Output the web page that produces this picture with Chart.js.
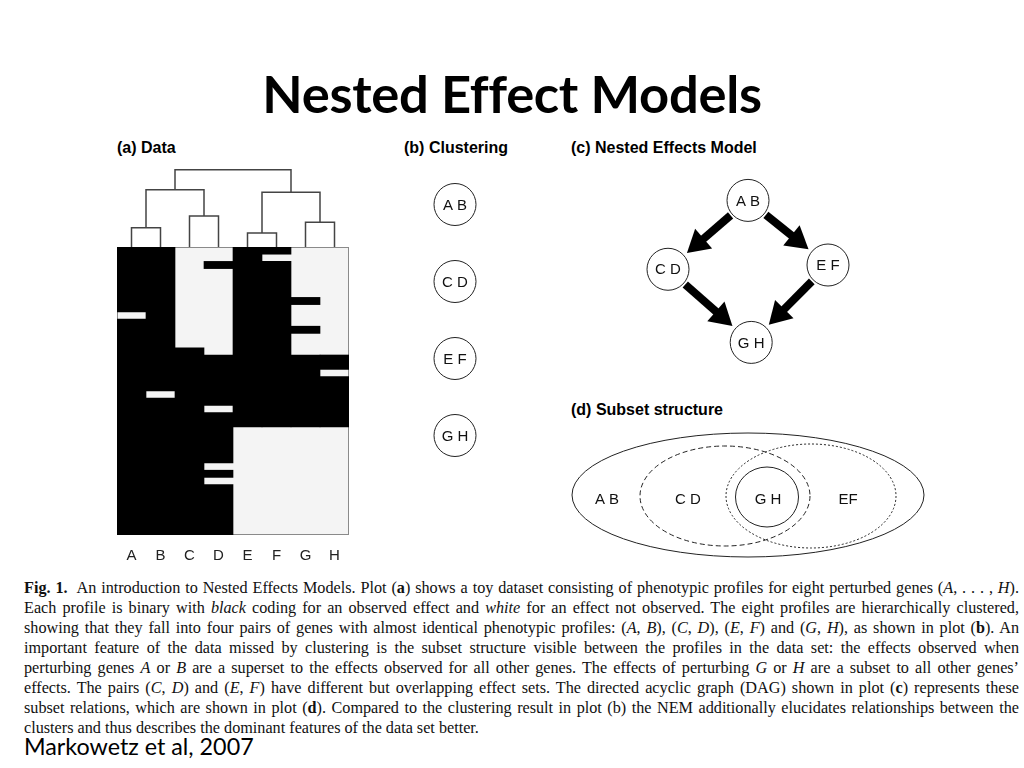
<!DOCTYPE html>
<html>
<head>
<meta charset="utf-8">
<title>Nested Effect Models</title>
<script src="https://cdn.jsdelivr.net/npm/chart.js@4.4.4/dist/chart.umd.min.js"></script>
<style>
  html, body { margin: 0; padding: 0; background: #fff; }
  #page { position: relative; width: 1024px; height: 768px; overflow: hidden; color: #000; }
  canvas { position: absolute; display: block; }
  h1 { position: absolute; left: 0; top: 61px; width: 1024px; margin: 0; text-align: center;
       font: bold 52.5px Lato, "Open Sans", sans-serif; letter-spacing: -0.3px; }
  .ptitle { position: absolute; margin: 0; line-height: 18px; white-space: nowrap;
            font: bold 16px "Liberation Sans", Arial, sans-serif; }
  #caption { position: absolute; left: 24px; top: 578px; width: 995px; color: #111;
             font: 16.2px "Liberation Serif", "Times New Roman", serif; line-height: 20px; }
  #caption div { text-align: justify; text-align-last: justify; }
  #caption div.last { text-align-last: left; }
  #source { position: absolute; left: 24px; top: 732px; margin: 0; white-space: nowrap;
            font: 23.3px Lato, "Open Sans", sans-serif; }
</style>
</head>
<body>
<div id="page">
  <h1>Nested Effect Models</h1>

  <div class="ptitle" style="left:117px; top:139px;">(a) Data</div>
  <div class="ptitle" style="left:404px; top:139px;">(b) Clustering</div>
  <div class="ptitle" style="left:571px; top:139px;">(c) Nested Effects Model</div>
  <div class="ptitle" style="left:571px; top:401px;">(d) Subset structure</div>

  <canvas id="dendro" width="232" height="85" style="left:117px; top:162px;"></canvas>
  <canvas id="heat" width="232" height="320" style="left:117px; top:247px;"></canvas>
  <canvas id="clusters" width="100" height="308" style="left:405px; top:166px;"></canvas>
  <canvas id="dag" width="240" height="213" style="left:628px; top:172px;"></canvas>
  <canvas id="subsets" width="380" height="140" style="left:560px; top:425px;"></canvas>

  <div id="caption">
    <div><b>Fig. 1.</b>&nbsp; An introduction to Nested Effects Models. Plot (<b>a</b>) shows a toy dataset consisting of phenotypic profiles for eight perturbed genes (<i>A</i>, . . . , <i>H</i>).</div>
    <div>Each profile is binary with <i>black</i> coding for an observed effect and <i>white</i> for an effect not observed. The eight profiles are hierarchically clustered,</div>
    <div>showing that they fall into four pairs of genes with almost identical phenotypic profiles: (<i>A</i>, <i>B</i>), (<i>C</i>, <i>D</i>), (<i>E</i>, <i>F</i>) and (<i>G</i>, <i>H</i>), as shown in plot (<b>b</b>). An</div>
    <div>important feature of the data missed by clustering is the subset structure visible between the profiles in the data set: the effects observed when</div>
    <div>perturbing genes <i>A</i> or <i>B</i> are a superset to the effects observed for all other genes. The effects of perturbing <i>G</i> or <i>H</i> are a subset to all other genes’</div>
    <div>effects. The pairs (<i>C</i>, <i>D</i>) and (<i>E</i>, <i>F</i>) have different but overlapping effect sets. The directed acyclic graph (DAG) shown in plot (<b>c</b>) represents these</div>
    <div>subset relations, which are shown in plot (<b>d</b>). Compared to the clustering result in plot (b) the NEM additionally elucidates relationships between the</div>
    <div class="last">clusters and thus describes the dominant features of the data set better.</div>
  </div>
  <div id="source">Markowetz et al, 2007</div>
</div>

<script>
// ---- (a) data: one 40-row binary profile per perturbed gene, row 0 on top
// '1' = effect observed (black), '0' = not observed (white)
const genes = ['A', 'B', 'C', 'D', 'E', 'F', 'G', 'H'];
const profiles = [
  '1111111110111111111111111111111111111111', // A
  '1111111111111111111101111111111111111111', // B
  '0000000000000011111111111111111111111111', // C
  '0010000000000001111111011111110101111111', // D
  '1111111111111111111111111000000000000000', // E
  '1011111111111111111111111000000000000000', // F
  '0000000100010001111111111000000000000000', // G
  '0000000000000001101111111000000000000000'  // H
];

// ---- (a) dendrogram: merged pairs and their heights (root = 1)
const mergePairs = [['A', 'B'], ['C', 'D'], ['E', 'F'], ['G', 'H'], ['AB', 'CD'], ['EF', 'GH'], ['ABCD', 'EFGH']];
const mergeHeights = [0.25, 0.40, 0.18, 0.32, 0.74, 0.71, 1.0];

// ---- (b) clusters
const clusterLabels = ['A B', 'C D', 'E F', 'G H'];

// ---- (c) nested effects model (DAG)
const dagLabels = ['A B', 'C D', 'E F', 'G H'];
const dagX = [0, -1, 1, 0.04];
const dagY = [2, 1.03, 1.09, 0];
const dagEdges = [[0, 1], [0, 2], [1, 3], [2, 3]];

// ---- (d) subset structure: one ellipse per effect set
const setCenterX = [0, -0.23, 0.63, 0.19];
const setCenterY = [0, -0.01, -0.01, -0.02];
const setRadiusX = [1.76, 0.85, 0.85, 0.315];
const setRadiusY = [0.62, 0.50, 0.52, 0.30];
const regionLabels = ['A B', 'C D', 'G H', 'EF'];
const regionX = [-1.41, -0.60, 0.20, 1.00];
const regionY = [-0.04, -0.04, -0.04, -0.04];

// styles
const INK = '#111';
const CELL_WHITE = '#f4f4f4';
const SET_DASHES = [[], [5, 3], [2, 2], []];
const NODE_RADIUS = 21;
const LABEL_FONT = '15px "Liberation Sans", Arial, sans-serif';

Chart.defaults.animation = false;
Chart.defaults.responsive = false;
Chart.defaults.devicePixelRatio = 1;
Chart.defaults.plugins.legend.display = false;
Chart.defaults.plugins.tooltip.enabled = false;
Chart.defaults.layout.padding = 0;
Chart.defaults.layout.autoPadding = false;

const hiddenLinear = (min, max, reverse) => ({ type: 'linear', display: false, min, max, reverse: !!reverse });

// text inside/at scatter points (node names)
const nodeLabels = {
  id: 'nodeLabels',
  afterDatasetsDraw(chart) {
    const { ctx } = chart;
    chart.data.datasets.forEach((ds, di) => {
      if (!ds.nodeLabels) return;
      chart.getDatasetMeta(di).data.forEach((pt, i) => {
        ctx.save();
        ctx.font = LABEL_FONT;
        ctx.fillStyle = INK;
        ctx.textAlign = 'center';
        ctx.textBaseline = 'middle';
        ctx.fillText(ds.nodeLabels[i], pt.x, pt.y + 1);
        ctx.restore();
      });
    });
  }
};

// ---- (a) heatmap as floating bars: each black run is one bar
function blackRuns(profile) {
  const runs = [];
  let start = -1;
  for (let i = 0; i <= profile.length; i++) {
    const on = profile[i] === '1';
    if (on && start < 0) start = i;
    if (!on && start >= 0) { runs.push([start, i]); start = -1; }
  }
  return runs;
}
const runsPerGene = profiles.map(blackRuns);
const maxRuns = Math.max(...runsPerGene.map(r => r.length));
const heatDatasets = [];
for (let k = 0; k < maxRuns; k++) {
  heatDatasets.push({
    data: runsPerGene.map(r => r[k] || null),
    backgroundColor: '#000',
    borderWidth: 0,
    barPercentage: 1,
    categoryPercentage: 1,
    grouped: false
  });
}

const cellBackground = {
  id: 'cellBackground',
  beforeDatasetsDraw(chart) {
    const { ctx, chartArea: a } = chart;
    ctx.save();
    ctx.fillStyle = CELL_WHITE;
    ctx.fillRect(a.left, a.top, a.width, a.height);
    ctx.strokeStyle = '#8a8a8a';
    ctx.lineWidth = 1;
    ctx.strokeRect(a.left + 0.5, a.top + 0.5, a.width - 1, a.height - 1);
    ctx.restore();
  }
};

new Chart(document.getElementById('heat'), {
  type: 'bar',
  data: { labels: genes, datasets: heatDatasets },
  options: {
    scales: {
      x: {
        // invisible tick marks give the label gap without the side padding
        // that ticks.padding would add to the category axis
        grid: { display: false, drawTicks: true, tickLength: 12 },
        border: { display: false },
        ticks: { color: '#222', padding: 0, font: { family: '"Liberation Sans", Arial, sans-serif', size: 15 } },
        afterFit(scale) { scale.height = 32; }
      },
      y: hiddenLinear(0, profiles[0].length, true)
    }
  },
  plugins: [cellBackground]
});

// ---- (a) dendrogram
const nodePos = {};
genes.forEach((g, i) => { nodePos[g] = { x: i + 0.5, y: 0 }; });
const dendroDatasets = mergePairs.map(([a, b], i) => {
  const h = mergeHeights[i];
  const pa = nodePos[a], pb = nodePos[b];
  nodePos[a + b] = { x: (pa.x + pb.x) / 2, y: h };
  return {
    data: [{ x: pa.x, y: pa.y }, { x: pa.x, y: h }, { x: pb.x, y: h }, { x: pb.x, y: pb.y }],
    showLine: true,
    borderColor: '#444',
    borderWidth: 1.5,
    pointRadius: 0,
    clip: false
  };
});

new Chart(document.getElementById('dendro'), {
  type: 'scatter',
  data: { datasets: dendroDatasets },
  options: { scales: { x: hiddenLinear(0, genes.length), y: hiddenLinear(0, 1.1) } }
});

// ---- (b) clustering
new Chart(document.getElementById('clusters'), {
  type: 'scatter',
  data: {
    datasets: [{
      data: clusterLabels.map((_, i) => ({ x: 0, y: i })),
      nodeLabels: clusterLabels,
      pointRadius: NODE_RADIUS,
      pointBackgroundColor: '#fff',
      pointBorderColor: '#222',
      pointBorderWidth: 1,
      clip: false
    }]
  },
  options: { scales: { x: hiddenLinear(-1, 1), y: hiddenLinear(-0.5, 3.5, true) } },
  plugins: [nodeLabels]
});

// ---- (c) DAG with thick arrows
const dagArrows = {
  id: 'dagArrows',
  beforeDatasetsDraw(chart) {
    const { ctx } = chart;
    const pts = chart.getDatasetMeta(0).data;
    const HEAD = 22, HALF = 13;
    ctx.save();
    ctx.fillStyle = '#000';
    ctx.strokeStyle = '#000';
    ctx.lineWidth = 8;
    dagEdges.forEach(([a, b]) => {
      const p = pts[a], q = pts[b];
      const dx = q.x - p.x, dy = q.y - p.y, len = Math.hypot(dx, dy);
      const ux = dx / len, uy = dy / len;
      const sx = p.x + ux * (NODE_RADIUS + 2), sy = p.y + uy * (NODE_RADIUS + 2);
      const tx = q.x - ux * (NODE_RADIUS + 4), ty = q.y - uy * (NODE_RADIUS + 4);
      const bx = tx - ux * HEAD, by = ty - uy * HEAD;
      ctx.beginPath();
      ctx.moveTo(sx, sy);
      ctx.lineTo(bx + ux * 2, by + uy * 2);
      ctx.stroke();
      ctx.beginPath();
      ctx.moveTo(tx, ty);
      ctx.lineTo(bx - uy * HALF, by + ux * HALF);
      ctx.lineTo(bx + uy * HALF, by - ux * HALF);
      ctx.closePath();
      ctx.fill();
    });
    ctx.restore();
  }
};

new Chart(document.getElementById('dag'), {
  type: 'scatter',
  data: {
    datasets: [{
      data: dagLabels.map((_, i) => ({ x: dagX[i], y: dagY[i] })),
      nodeLabels: dagLabels,
      pointRadius: NODE_RADIUS,
      pointBackgroundColor: '#fff',
      pointBorderColor: '#222',
      pointBorderWidth: 1,
      clip: false
    }]
  },
  options: { scales: { x: hiddenLinear(-1.5, 1.5), y: hiddenLinear(-0.6, 2.4) } },
  plugins: [dagArrows, nodeLabels]
});

// ---- (d) subset structure
const setEllipses = {
  id: 'setEllipses',
  beforeDatasetsDraw(chart) {
    const { ctx, scales: { x, y } } = chart;
    ctx.save();
    ctx.strokeStyle = '#222';
    ctx.lineWidth = 1;
    setCenterX.forEach((cx, i) => {
      const cy = setCenterY[i];
      const px = x.getPixelForValue(cx), py = y.getPixelForValue(cy);
      const rx = Math.abs(x.getPixelForValue(cx + setRadiusX[i]) - px);
      const ry = Math.abs(y.getPixelForValue(cy + setRadiusY[i]) - py);
      ctx.setLineDash(SET_DASHES[i]);
      ctx.beginPath();
      ctx.ellipse(px, py, rx, ry, 0, 0, Math.PI * 2);
      ctx.stroke();
    });
    ctx.restore();
  }
};

new Chart(document.getElementById('subsets'), {
  type: 'scatter',
  data: {
    datasets: [{
      data: regionLabels.map((_, i) => ({ x: regionX[i], y: regionY[i] })),
      nodeLabels: regionLabels,
      pointRadius: 0
    }]
  },
  options: { scales: { x: hiddenLinear(-1.88, 1.92), y: hiddenLinear(-0.70, 0.70) } },
  plugins: [setEllipses, nodeLabels]
});
</script>
</body>
</html>
